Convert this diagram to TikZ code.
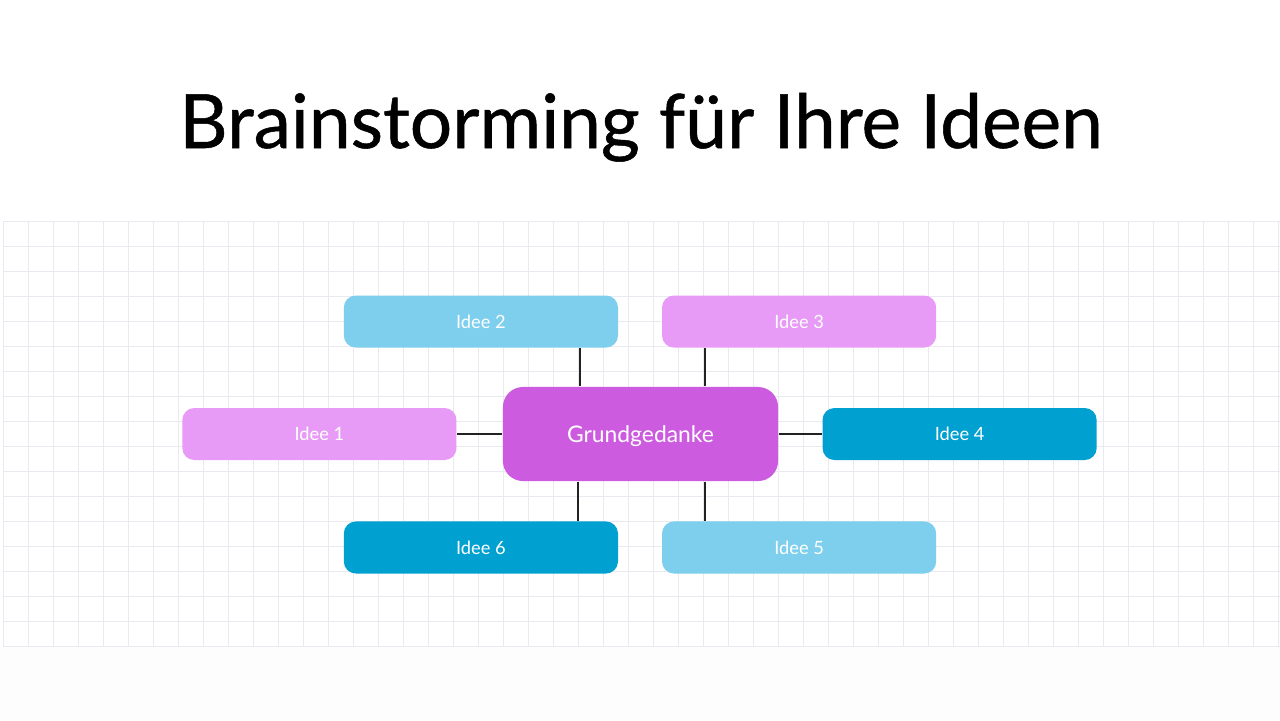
\documentclass[tikz,border=0pt]{standalone}
\usepackage{fontspec}
\setmainfont{Lato}
\newfontfamily\titlefont[FakeBold=0.7]{Lato}
\usetikzlibrary{positioning}
\definecolor{skyblue}{HTML}{7DCFED}
\definecolor{deepblue}{HTML}{00A0D1}
\definecolor{lilac}{HTML}{E89BF6}
\definecolor{violet}{HTML}{CC5BE0}
\definecolor{gridgray}{HTML}{E9E9EF}
\definecolor{linkgray}{HTML}{222222}
\definecolor{paper}{HTML}{FDFDFE}

\begin{document}
\begin{tikzpicture}
        [
            x=0.01cm, y=-0.01cm,
            idea/.style={rectangle, rounded corners=0.12cm, fill=#1,
                         minimum width=2.74cm, minimum height=0.52cm,
                         inner sep=0pt, text=white, text depth=0pt,
                         font=\fontsize{5.2}{7}\selectfont},
            core/.style={rectangle, rounded corners=0.2cm, fill=violet,
                         minimum width=2.75cm, minimum height=0.94cm,
                         inner sep=0pt, text=white, text depth=0pt,
                         font=\fontsize{6.5}{8}\selectfont},
            gridline/.style={draw=gridgray, line width=0.2845pt},
            link/.style={draw=linkgray, line width=0.45pt}
        ]
        \useasboundingbox (0,0) rectangle (1280,720);
        \fill[white] (0,0) rectangle (1280,720);
        \fill[paper] (0,647) rectangle (1280,720);
        % grid paper
        \foreach \i in {0,...,51}
            \draw [gridline] ({3.5+25*\i},221) -- ({3.5+25*\i},647);
        \foreach \j in {0,...,17}
            \draw [gridline] (3,{221.5+25*\j}) -- (1280,{221.5+25*\j});
        \node (title) [anchor=base] at (641,148) {\titlefont\fontsize{21.3}{26}\selectfont Brainstorming für Ihre Ideen};
        \node (center) [core] at (640.5,434) {Grundgedanke};
        \node (idee1) [idea=lilac, left=0.45cm of center] {Idee 1};
        \node (idee4) [idea=deepblue, right=0.43cm of center] {Idee 4};
        \node (idee2) [idea=skyblue, above=0.38cm of center, xshift=-1.595cm] {Idee 2};
        \node (idee3) [idea=lilac, above=0.38cm of center, xshift=1.585cm] {Idee 3};
        \node (idee6) [idea=deepblue, below=0.39cm of center, xshift=-1.595cm] {Idee 6};
        \node (idee5) [idea=skyblue, below=0.39cm of center, xshift=1.585cm] {Idee 5};
        \draw [link] (idee1) -- (center);
        \draw [link] (center) -- (idee4);
        \foreach \s/\k in {-0.605/idee2,0.645/idee3}
            \draw [link] ([xshift=\s cm]center.north) -- ([xshift=\s cm]center.north |- \k.south);
        \foreach \s/\k in {-0.625/idee6,0.645/idee5}
            \draw [link] ([xshift=\s cm]center.south) -- ([xshift=\s cm]center.south |- \k.north);
    \end{tikzpicture}
\end{document}
